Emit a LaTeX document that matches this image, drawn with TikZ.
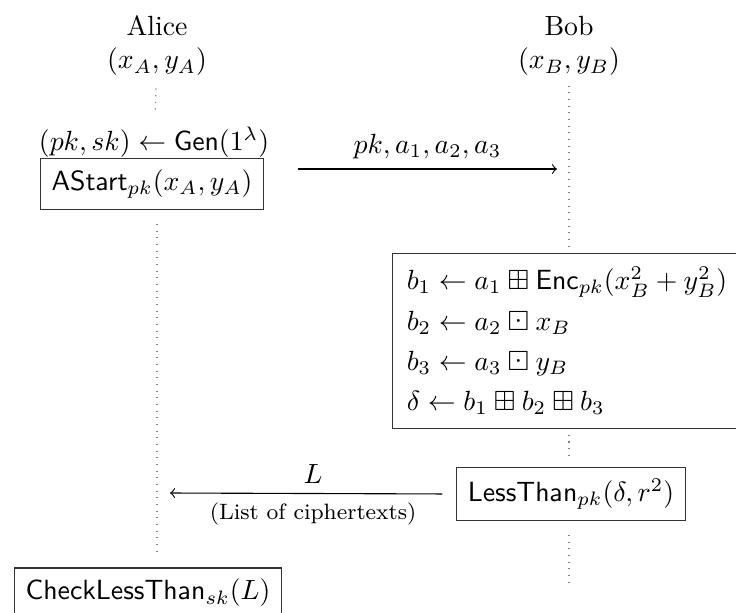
\documentclass[tikz,border=0pt]{standalone}
\usepackage{amsmath,amssymb}
\usetikzlibrary{positioning, calc}

\begin{document}
\begin{tikzpicture}[x=0.36pt, y=-0.36pt,
  proc/.style={draw=black!80, thin, inner sep=4pt, minimum height=17.5pt},
  life/.style={dotted, gray, thin},
  msg/.style={->, thin}
]
\useasboundingbox (0,0) rectangle (736,612);

% the two parties
\node (alice) at (157,26) {Alice};
\node (alicexy) at (157,62) {$(x_A,y_A)$};
\node (bob) at (569,26) {Bob};
\node (bobxy) at (569,62) {$(x_B,y_B)$};

% Alice's steps
\node (gen) at (154,142) {$(pk,sk)\leftarrow\mathsf{Gen}(1^\lambda)$};
\node[proc] (astart) at (152,184) {$\mathsf{AStart}_{pk}(x_A,y_A)$};
\node[proc] (check) at (148,593) {$\mathsf{CheckLessThan}_{sk}(L)$};

% Bob's steps
\node[proc, align=left, inner sep=5pt] (eval) at (567,341) {%
  $b_1\leftarrow a_1\boxplus\mathsf{Enc}_{pk}(x_B^2+y_B^2)$\\[2.5pt]
  $b_2\leftarrow a_2\boxdot x_B$\\[2.5pt]
  $b_3\leftarrow a_3\boxdot y_B$\\[2.5pt]
  $\delta\leftarrow b_1\boxplus b_2\boxplus b_3$};
\node[proc] (less) at (571,494) {$\mathsf{LessThan}_{pk}(\delta,r^2)$};

\coordinate (m1s) at (298,169);
\coordinate (m1e) at (557,169);
\coordinate (m2e) at (170,493);
\coordinate (bobend) at (569,588);

% lifelines
\draw[life, shorten <=1pt, shorten >=2pt] (alicexy) -- (gen);
\draw[life, shorten <=5pt, shorten >=5pt] (alicexy |- astart.south) -- (alicexy |- check.north);
\draw[life, shorten >=2.5pt] (bobxy) -- (bobxy |- eval.north);
\draw[life, shorten <=2pt, shorten >=4.3pt] (eval.south -| bobxy) -- (bobxy |- less.north);
\draw[life, shorten <=5pt] (bobxy |- less.south) -- (bobend);

% messages
\draw[msg] (m1s) -- node[above] {$pk,a_1,a_2,a_3$} (m1e);
\draw[msg, shorten <=5pt] (less.west) -- node[above] {$L$}
  node[below, font=\footnotesize] {(List of ciphertexts)} (m2e);
\end{tikzpicture}
\end{document}
